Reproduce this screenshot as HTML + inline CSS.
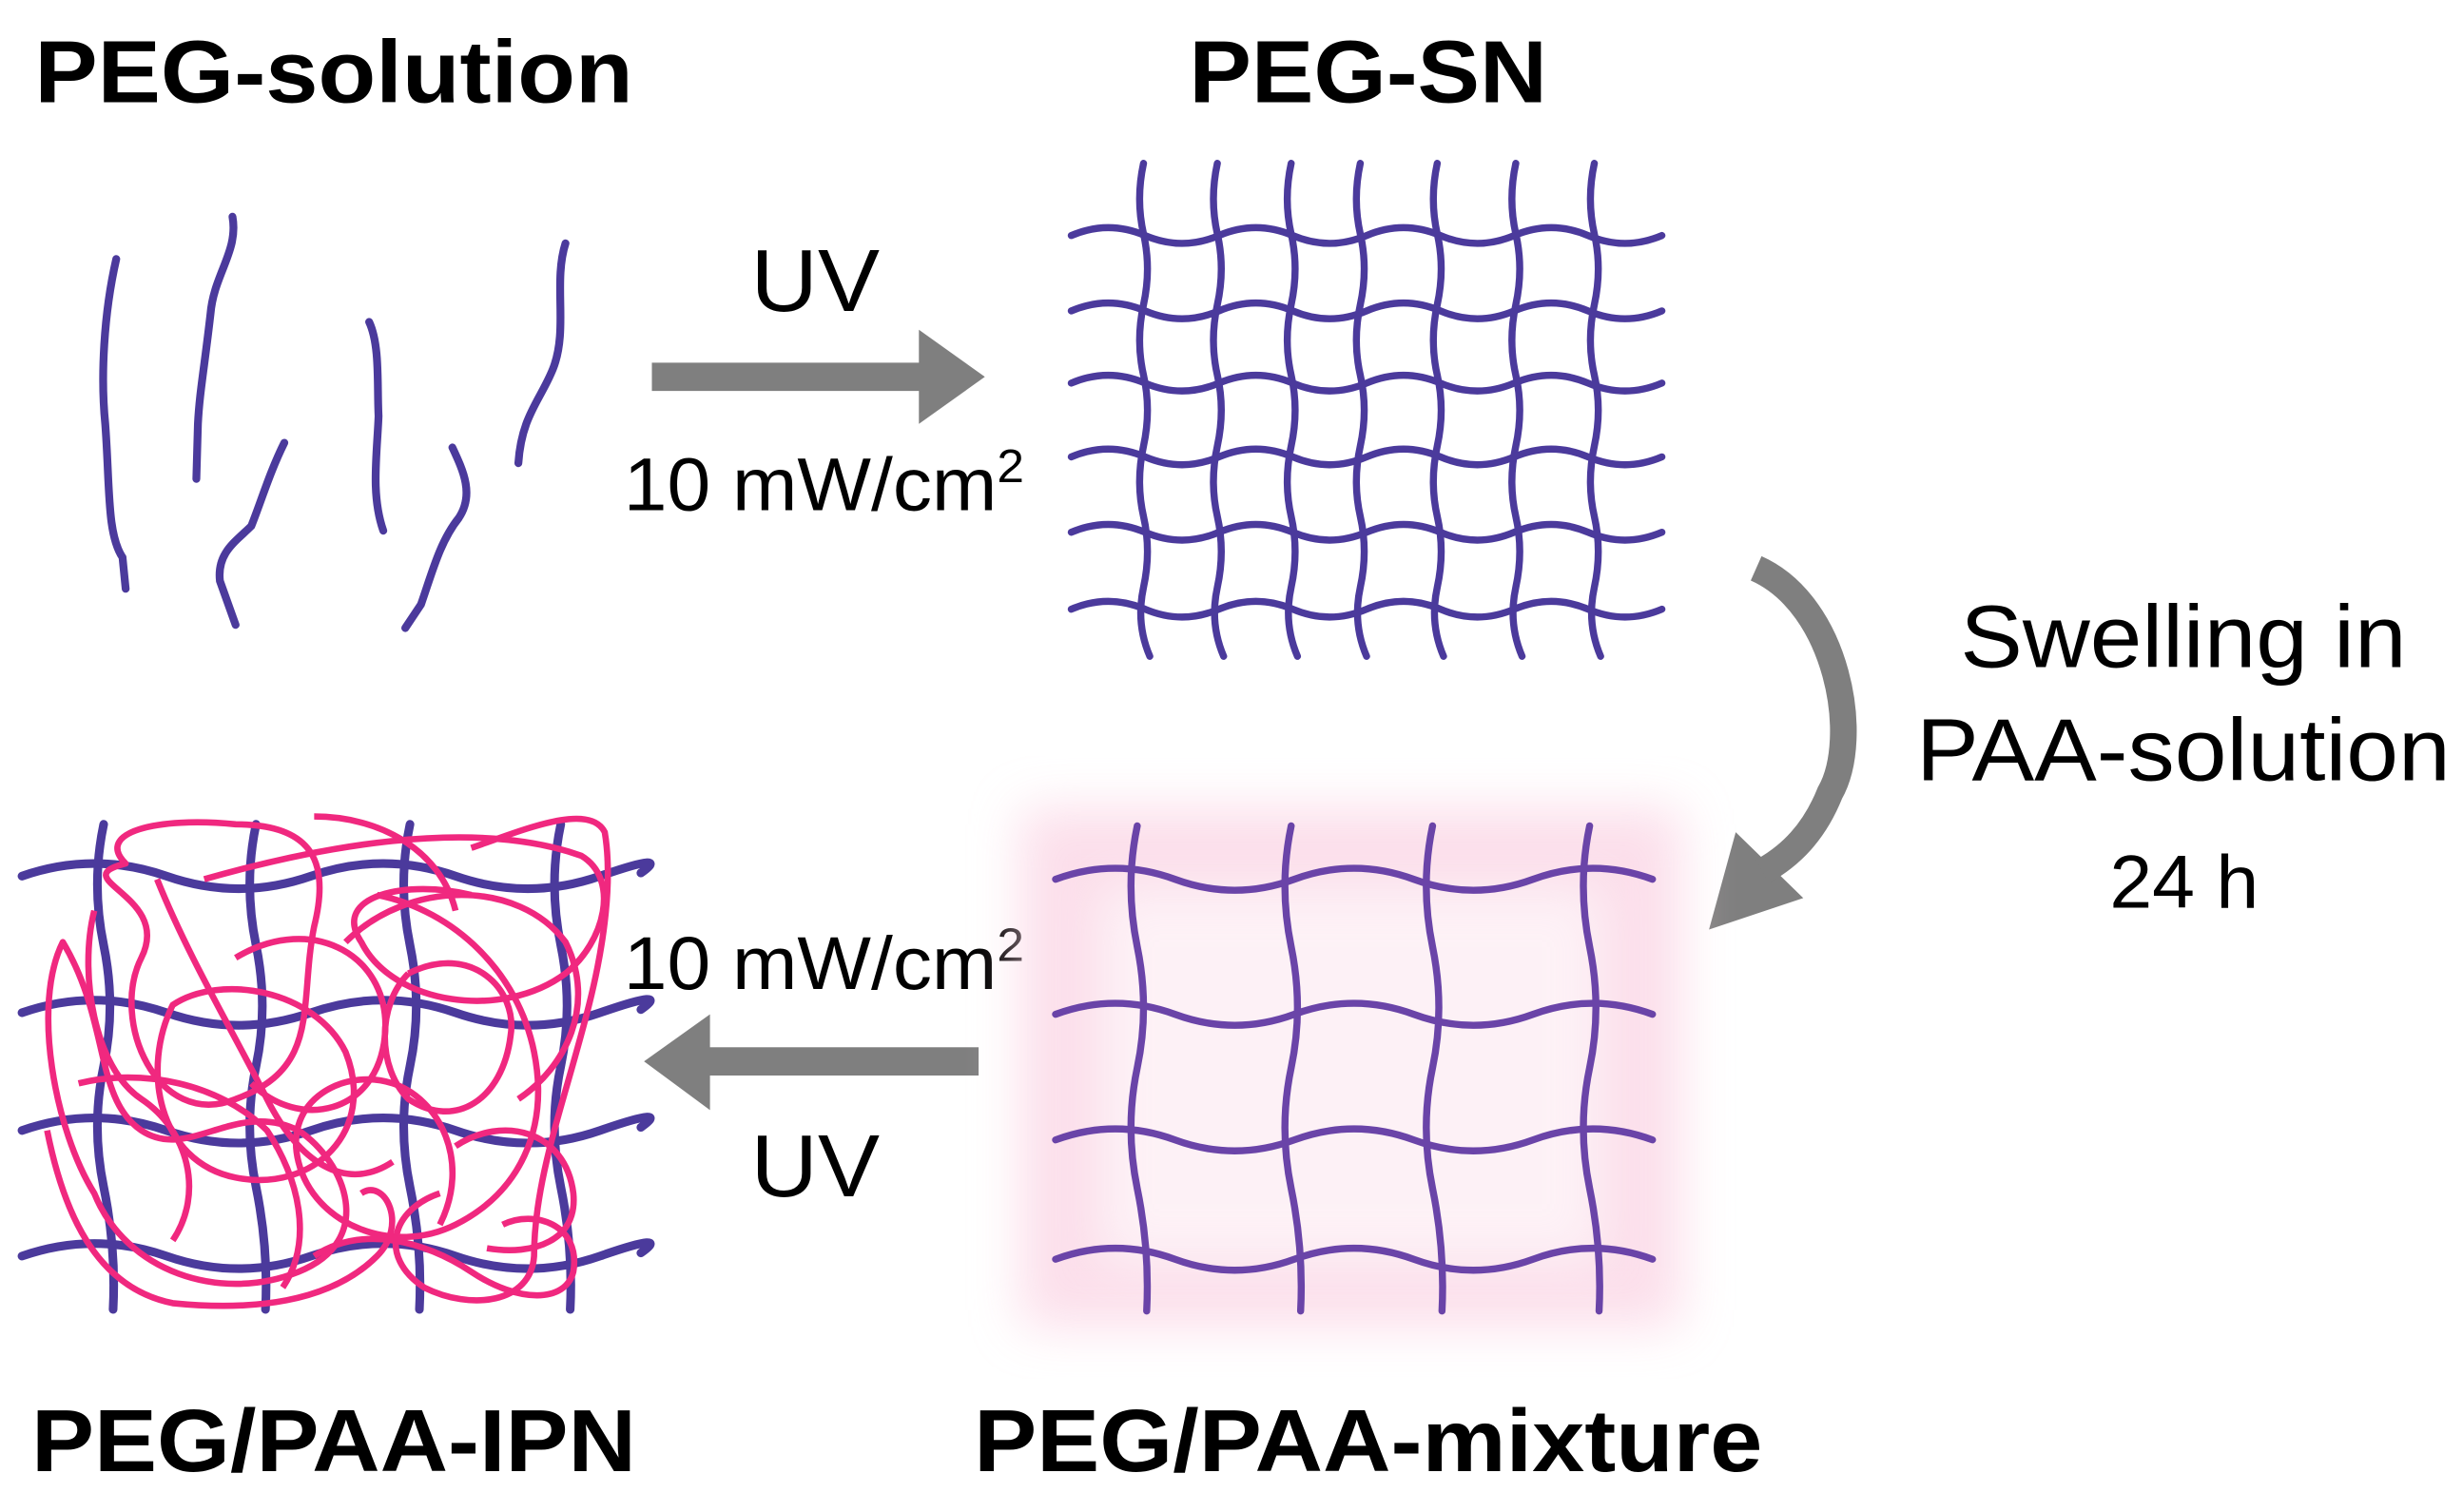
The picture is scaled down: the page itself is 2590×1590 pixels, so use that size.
<!DOCTYPE html>
<html><head><meta charset="utf-8"><style>
html,body{margin:0;padding:0;background:#fff;}
svg{display:block;}
</style></head><body>
<svg width="2590" height="1590" viewBox="0 0 1568 963" preserveAspectRatio="none" xmlns="http://www.w3.org/2000/svg">
<defs>
<filter id="bl"><feGaussianBlur stdDeviation="16"/></filter>
</defs>
<g font-family="Liberation Sans, Arial, sans-serif" fill="#000">
<text x="22" y="65" font-size="56" font-weight="bold" textLength="381" lengthAdjust="spacingAndGlyphs">PEG-solution</text>
<text x="757" y="65" font-size="56" font-weight="bold" textLength="228" lengthAdjust="spacingAndGlyphs">PEG-SN</text>
<text x="20" y="937" font-size="56" font-weight="bold" textLength="385" lengthAdjust="spacingAndGlyphs">PEG/PAA-IPN</text>
<text x="620" y="937" font-size="56" font-weight="bold" textLength="502" lengthAdjust="spacingAndGlyphs">PEG/PAA-mixture</text>
<text x="478" y="198" font-size="56" textLength="82" lengthAdjust="spacingAndGlyphs">UV</text>
<text x="478" y="762" font-size="56" textLength="82" lengthAdjust="spacingAndGlyphs">UV</text>
<text x="397" y="325" font-size="48" textLength="255" lengthAdjust="spacingAndGlyphs">10 mW/cm<tspan font-size="30" dy="-18">2</tspan></text>
<text x="397" y="630" font-size="48" textLength="255" lengthAdjust="spacingAndGlyphs">10 mW/cm<tspan font-size="30" dy="-18">2</tspan></text>
<text x="1248" y="425" font-size="56" textLength="284" lengthAdjust="spacingAndGlyphs">Swelling in</text>
<text x="1220" y="497" font-size="56" textLength="340" lengthAdjust="spacingAndGlyphs">PAA-solution</text>
<text x="1343" y="578" font-size="48" textLength="95" lengthAdjust="spacingAndGlyphs">24 h</text>
</g>
<g fill="#7f7f7f">
<rect x="415" y="231" width="172" height="18"/>
<polygon points="585,210 627,240 585,270"/>
<rect x="450" y="667" width="173" height="18"/>
<polygon points="452,646 410,676 452,707"/>
<polygon points="1088,592 1105,530 1148,572"/>
</g>
<path d="M1118,362 C1170,385 1185,470 1165,505 C1155,530 1140,545 1122,555" fill="none" stroke="#7f7f7f" stroke-width="17"/>
<g fill="none" stroke="#4b3a9c" stroke-width="5" stroke-linecap="round">
<path d="M74,165 C66,200 64,240 67,270 C70,310 68,340 78,355 L80,375"/>
<path d="M148,138 C152,160 136,175 134,200 C130,235 127,250 126,270 L125,305"/>
<path d="M181,282 C172,300 166,320 160,335 C150,345 138,352 140,370 L150,398"/>
<path d="M235,205 C242,220 240,245 241,265 C240,290 236,315 244,338"/>
<path d="M288,285 C295,300 302,315 292,330 C280,345 275,365 268,385 L258,400"/>
<path d="M360,155 C352,180 362,210 352,235 C344,255 332,265 330,295"/>
</g>
<g fill="none" stroke="#4b3a9c" stroke-width="4.5" stroke-linecap="round">
<path d="M682,150 q23.5,-10 47,0 t47,0 t47,0 t47,0 t47,0 t47,0 t47,0 t47,0"/>
<path d="M682,198 q23.5,-10 47,0 t47,0 t47,0 t47,0 t47,0 t47,0 t47,0 t47,0"/>
<path d="M682,244 q23.5,-10 47,0 t47,0 t47,0 t47,0 t47,0 t47,0 t47,0 t47,0"/>
<path d="M682,291 q23.5,-10 47,0 t47,0 t47,0 t47,0 t47,0 t47,0 t47,0 t47,0"/>
<path d="M682,339 q23.5,-10 47,0 t47,0 t47,0 t47,0 t47,0 t47,0 t47,0 t47,0"/>
<path d="M682,388 q23.5,-10 47,0 t47,0 t47,0 t47,0 t47,0 t47,0 t47,0 t47,0"/>
<path d="M728,104 q-5,23 0,45 t0,45 t0,45 t0,45 t0,45 t0,45 t4,44"/>
<path d="M775,104 q-5,23 0,45 t0,45 t0,45 t0,45 t0,45 t0,45 t4,44"/>
<path d="M822,104 q-5,23 0,45 t0,45 t0,45 t0,45 t0,45 t0,45 t4,44"/>
<path d="M866,104 q-5,23 0,45 t0,45 t0,45 t0,45 t0,45 t0,45 t4,44"/>
<path d="M915,104 q-5,23 0,45 t0,45 t0,45 t0,45 t0,45 t0,45 t4,44"/>
<path d="M965,104 q-5,23 0,45 t0,45 t0,45 t0,45 t0,45 t0,45 t4,44"/>
<path d="M1015,104 q-5,23 0,45 t0,45 t0,45 t0,45 t0,45 t0,45 t4,44"/>
</g>
<rect x="650" y="515" width="420" height="330" fill="#fbd6e5" filter="url(#bl)" opacity="0.8"/>
<rect x="700" y="565" width="320" height="240" fill="#fff" filter="url(#bl)" opacity="0.6"/>
<g fill="none" stroke="#6a44a8" stroke-width="4.5" stroke-linecap="round">
<path d="M672,560 q38,-14 76,0 t76,0 t76,0 t76,0 t76,0"/>
<path d="M672,646 q38,-14 76,0 t76,0 t76,0 t76,0 t76,0"/>
<path d="M672,726 q38,-14 76,0 t76,0 t76,0 t76,0 t76,0"/>
<path d="M672,802 q38,-14 76,0 t76,0 t76,0 t76,0 t76,0"/>
<path d="M724,526 q-8,38 0,77 t0,77 t0,77 t6,78"/>
<path d="M822,526 q-8,38 0,77 t0,77 t0,77 t6,78"/>
<path d="M912,526 q-8,38 0,77 t0,77 t0,77 t6,78"/>
<path d="M1012,526 q-8,38 0,77 t0,77 t0,77 t6,78"/>
</g>
<g fill="none" stroke="#4b3a9c" stroke-width="5.5" stroke-linecap="round">
<path d="M14,558 q46,-16 92,0 t92,0 t92,0 t92,0 t26,-2"/>
<path d="M14,645 q46,-16 92,0 t92,0 t92,0 t92,0 t26,-2"/>
<path d="M14,720 q46,-16 92,0 t92,0 t92,0 t92,0 t26,-2"/>
<path d="M14,800 q46,-16 92,0 t92,0 t92,0 t92,0 t26,-2"/>
<path d="M66,525 q-8,38 0,77 t0,77 t0,77 t6,78"/>
<path d="M163,525 q-8,38 0,77 t0,77 t0,77 t6,78"/>
<path d="M261,525 q-8,38 0,77 t0,77 t0,77 t6,78"/>
<path d="M357,525 q-8,38 0,77 t0,77 t0,77 t6,78"/>
</g>
<g fill="none" stroke="#f0287f" stroke-width="4" stroke-linejoin="round">
<path d="M80,550 C60,530 100,520 150,525 C200,525 210,550 200,590 C190,640 205,680 150,700 C100,720 70,650 90,610 C110,570 40,560 80,550Z"/>
<path d="M130,560 C200,540 300,520 370,545 C395,560 385,600 360,620 C320,650 250,640 230,600 C210,570 260,560 300,570"/>
<path d="M40,600 C20,640 35,720 60,760 C80,810 140,830 190,810 C240,790 220,740 190,720 C150,700 120,740 90,720 C60,700 70,650 40,600Z"/>
<path d="M240,570 C290,580 330,620 340,670 C350,720 330,760 290,780 C250,800 200,780 190,740 C180,700 220,680 250,690 C280,700 300,740 280,780"/>
<path d="M110,640 C140,620 200,630 220,670 C240,720 200,760 150,750 C100,740 90,680 110,640Z"/>
<path d="M300,540 C330,530 375,510 385,530 C390,560 385,600 375,640 C360,700 340,750 340,800 C338,830 300,835 270,820 C240,800 250,770 280,760"/>
<path d="M30,720 C40,770 60,820 110,830 C160,835 210,830 240,800 C260,780 245,750 230,760"/>
<path d="M50,690 C90,680 140,690 170,720 C190,750 200,790 180,820"/>
<path d="M260,620 C300,600 330,630 325,660 C320,700 290,720 260,700 C240,680 240,640 260,620"/>
<path d="M200,800 C230,780 270,790 300,810 C330,830 360,830 365,810 C370,780 340,770 320,780"/>
<path d="M100,560 C120,610 150,660 170,700 C190,740 220,760 250,740"/>
<path d="M220,600 C260,560 330,560 360,600 C380,640 360,680 330,700"/>
<path d="M150,610 C200,580 250,610 245,660 C240,710 190,720 160,690"/>
<path d="M60,580 C50,620 60,680 90,700 C120,720 130,760 110,790"/>
<path d="M290,730 C320,710 360,720 365,760 C368,790 340,800 310,795"/>
<path d="M200,520 C240,520 280,540 290,580"/>
</g>
</svg>
</body></html>
